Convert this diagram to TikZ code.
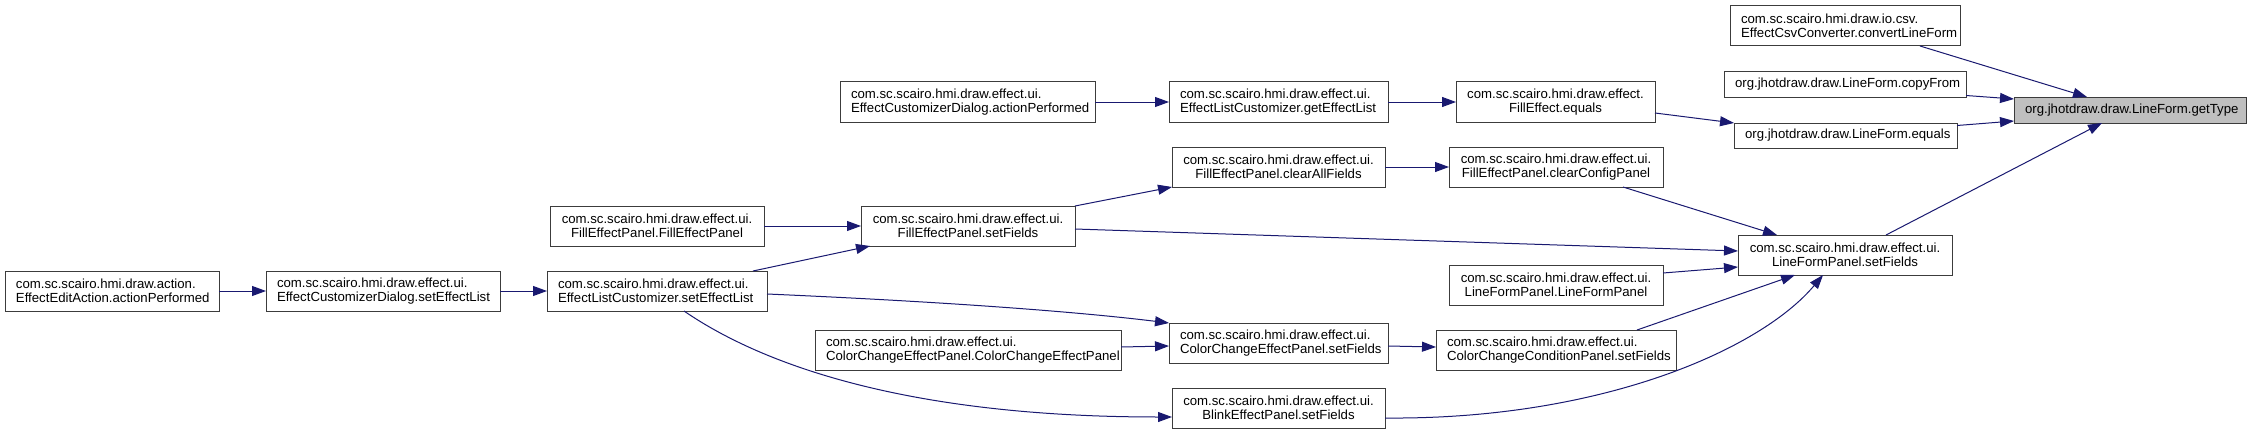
\documentclass[tikz,border=0pt]{standalone}
\usepackage{fontspec}
\setmainfont{Liberation Sans}
\usetikzlibrary{arrows.meta,calc}
\definecolor{edgeblue}{RGB}{25,25,112}
\definecolor{boxline}{RGB}{60,60,60}
\definecolor{hlfill}{RGB}{191,191,191}
\hyphenpenalty=10000
\exhyphenpenalty=10000
\newcommand\nodefont{\fontsize{9.9pt}{10.7pt}\selectfont}
\tikzset{
  gbox/.style={draw=boxline, line width=0.75pt, fill=white, inner xsep=8.25pt, inner ysep=0pt, outer sep=0pt,
    font=\nodefont},
  callarrow/.style={draw=edgeblue, line width=0.75pt, -{Triangle[length=10.5pt,width=7.5pt]}}
}
\newcommand\cgnode[7]{%
  \pgfmathsetlengthmacro\cgtw{(#4-#2-22)*0.75}%
  \pgfmathsetlengthmacro\cgmh{(#5-#3)*0.75}%
  \pgfmathsetmacro\cgx{(#2+#4)/2}%
  \pgfmathsetmacro\cgy{(#3+#5)/2}%
  \node[gbox, align=#6, text width=\cgtw, minimum height=\cgmh] (#1) at (\cgx,\cgy) {#7};}
\begin{document}
\begin{tikzpicture}[x=0.75pt,y=-0.75pt]
\useasboundingbox (0,0) rectangle (2251,435);
\cgnode{EEA}{5}{271}{219}{311}{left}{com.sc.scairo.hmi.draw.action.\\EffectEditAction.actionPerformed}
\cgnode{ECDs}{266}{271}{500}{311}{left}{com.sc.scairo.hmi.draw.effect.ui.\\EffectCustomizerDialog.setEffectList}
\cgnode{ELCs}{547}{271}{767}{311}{left}{com.sc.scairo.hmi.draw.effect.ui.\\EffectListCustomizer.setEffectList}
\cgnode{FEPFEP}{550}{206}{764}{246}{center}{com.sc.scairo.hmi.draw.effect.ui.\\FillEffectPanel.FillEffectPanel}
\cgnode{FEPsf}{861}{206}{1075}{246}{center}{com.sc.scairo.hmi.draw.effect.ui.\\FillEffectPanel.setFields}
\cgnode{ECDap}{840}{82}{1095}{122}{left}{com.sc.scairo.hmi.draw.effect.ui.\\EffectCustomizerDialog.actionPerformed}
\cgnode{GEL}{1169}{82}{1388}{122}{left}{com.sc.scairo.hmi.draw.effect.ui.\\EffectListCustomizer.getEffectList}
\cgnode{CAF}{1172}{147}{1385}{187}{center}{com.sc.scairo.hmi.draw.effect.ui.\\FillEffectPanel.clearAllFields}
\cgnode{CCEPC}{815}{330}{1121}{370}{left}{com.sc.scairo.hmi.draw.effect.ui.\\ColorChangeEffectPanel.ColorChangeEffectPanel}
\cgnode{CCEPsf}{1169}{323}{1388}{363}{left}{com.sc.scairo.hmi.draw.effect.ui.\\ColorChangeEffectPanel.setFields}
\cgnode{BEPsf}{1172}{388}{1385}{428}{center}{com.sc.scairo.hmi.draw.effect.ui.\\BlinkEffectPanel.setFields}
\cgnode{FEeq}{1456}{82}{1655}{122}{center}{com.sc.scairo.hmi.draw.effect.\\FillEffect.equals}
\cgnode{CCP}{1449}{147}{1663}{187}{center}{com.sc.scairo.hmi.draw.effect.ui.\\FillEffectPanel.clearConfigPanel}
\cgnode{LFPsf}{1738}{235}{1952}{275}{center}{com.sc.scairo.hmi.draw.effect.ui.\\LineFormPanel.setFields}
\cgnode{LFPLFP}{1449}{265}{1663}{305}{center}{com.sc.scairo.hmi.draw.effect.ui.\\LineFormPanel.LineFormPanel}
\cgnode{CCCP}{1436}{330}{1676}{370}{left}{com.sc.scairo.hmi.draw.effect.ui.\\ColorChangeConditionPanel.setFields}
\cgnode{CLF}{1730}{6}{1960}{46}{left}{com.sc.scairo.hmi.draw.io.csv.\\EffectCsvConverter.convertLineForm}
\cgnode{CF}{1724}{72}{1966}{97}{center}{org.jhotdraw.draw.LineForm.copyFrom}
\cgnode{LFeq}{1734}{123}{1957}{148}{center}{org.jhotdraw.draw.LineForm.equals}
\cgnode{GT}{2014}{97}{2246}{123}{center,fill=hlfill}{org.jhotdraw.draw.LineForm.getType}

\draw[callarrow] (EEA.east) -- (ECDs.west);
\draw[callarrow] (ECDs.east) -- (ELCs.west);
\draw[callarrow] ($(ELCs.north east)+(-14,0)$) -- ($(FEPsf.south west)+(9,0)$);
\draw[callarrow] ($(ELCs.east)+(0,3)$) .. controls (950,302) and (1080,312) .. (CCEPsf.north west);
\draw[callarrow] ($(ELCs.south west)+(137,0)$) .. controls (770,370) and (920,417) .. ($(BEPsf.west)+(0,9)$);
\draw[callarrow] (FEPFEP.east) -- (FEPsf.west);
\draw[callarrow] (FEPsf.north east) -- (CAF.south west);
\draw[callarrow] ($(FEPsf.east)+(0,3)$) -- ($(LFPsf.west)+(0,-4)$);
\draw[callarrow] (ECDap.east) -- (GEL.west);
\draw[callarrow] (GEL.east) -- (FEeq.west);
\draw[callarrow] ($(FEeq.east)+(0,11)$) -- (LFeq.north west);
\draw[callarrow] ($(LFeq.east)+(0,-10)$) -- ($(GT.west)+(0,11)$);
\draw[callarrow] ($(CF.east)+(0,11)$) -- ($(GT.west)+(0,-11)$);
\draw[callarrow] ($(CLF.south east)+(-40,0)$) -- ($(GT.north west)+(73,0)$);
\draw[callarrow] ($(LFPsf.north east)+(-66,0)$) -- ($(GT.south west)+(88,0)$);
\draw[callarrow] (CAF.east) -- (CCP.west);
\draw[callarrow] ($(CCP.south east)+(-40,0)$) -- ($(LFPsf.north west)+(39,0)$);
\draw[callarrow] ($(LFPLFP.east)+(0,-12)$) -- ($(LFPsf.west)+(0,12)$);
\draw[callarrow] ($(CCEPC.east)+(0,-3)$) -- ($(CCEPsf.west)+(0,3)$);
\draw[callarrow] ($(CCEPsf.east)+(0,3)$) -- ($(CCCP.west)+(0,-3)$);
\draw[callarrow] ($(CCCP.north west)+(201,0)$) -- ($(LFPsf.south west)+(57,0)$);
\draw[callarrow] ($(BEPsf.east)+(0,10)$) .. controls (1600,420) and (1760,350) .. ($(LFPsf.south west)+(85,0)$);
\end{tikzpicture}
\end{document}
